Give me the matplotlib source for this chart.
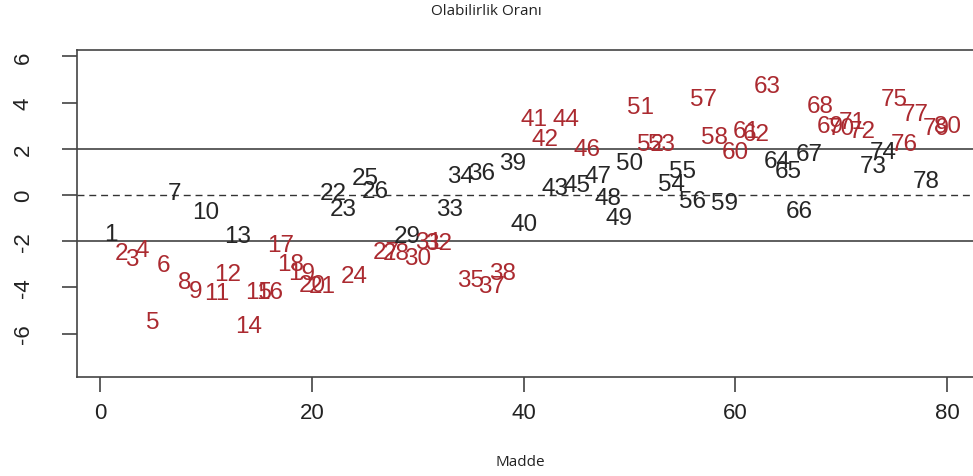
import numpy as np
import matplotlib
matplotlib.use("Agg")
import matplotlib.pyplot as plt

# item numbers and their likelihood-ratio statistic
madde = np.arange(1, 81)
oran = [
    -1.70, -2.50, -2.79, -2.38, -5.49, -3.05, 0.10, -3.77, -4.16, -0.74,
    -4.25, -3.44, -1.78, -5.68, -4.21, -4.21, -2.18, -3.00, -3.37, -3.90,
    -3.95, 0.10, -0.62, -3.51, 0.75, 0.17, -2.45, -2.50, -1.78, -2.72,
    -2.02, -2.07, -0.62, 0.82, -3.66, 0.97, -3.95, -3.37, 1.40, -1.27,
    3.28, 2.42, 0.32, 3.28, 0.42, 1.98, 0.82, -0.11, -0.98, 1.40,
    3.79, 2.22, 2.20, 0.46, 1.04, -0.26, 4.15, 2.49, -0.33, 1.84,
    2.78, 2.63, 4.73, 1.47, 1.04, -0.69, 1.76, 3.86, 2.99, 2.92,
    3.14, 2.78, 1.26, 1.84, 4.15, 2.20, 3.50, 0.61, 2.92, 2.99,
]
# items flagged (drawn in red)
isaretli = [2, 3, 4, 5, 6, 8, 9, 11, 12, 14, 15, 16, 17, 18, 19, 20, 21, 24,
            27, 28, 30, 31, 32, 35, 37, 38, 41, 42, 44, 46, 51, 52, 53, 57,
            58, 60, 61, 62, 63, 68, 69, 70, 71, 72, 75, 76, 77, 79, 80]
sinirlar = [-2, 2]
x_ticks = [0, 20, 40, 60, 80]
y_ticks = [-6, -4, -2, 0, 2, 4, 6]

plt.rcParams['font.family'] = ['Liberation Sans', 'DejaVu Sans']

fig = plt.figure(figsize=(9.73, 4.77), dpi=100)
ax = fig.add_axes([0.0791, 0.2075, 0.929, 0.6862])

kirmizi = '#ab2a30'
siyah = '#262626'
for m, o in zip(madde, oran):
    c = kirmizi if m in isaretli else siyah
    ax.text(m, o, str(m), color=c, fontsize=17.5, ha='center', va='center')

for s in sinirlar:
    ax.axhline(s, color='#333333', lw=1.1)
ax.axhline(0, color='#333333', lw=1.0, ls=(0, (5, 3.5)))

ax.set_xlim(-2.2, 83.2)
ax.set_ylim(-7.88, 6.29)
ax.set_xticks(x_ticks)
ax.set_yticks(y_ticks)
ax.set_yticklabels([str(v) for v in y_ticks], rotation=90, va='center')
ax.tick_params(axis='both', labelsize=16, length=11, width=1.1,
               color='#333333', labelcolor='#222222')
ax.tick_params(axis='x', pad=7)
ax.tick_params(axis='y', pad=20)
for sp in ax.spines.values():
    sp.set_color('#444444')
    sp.set_linewidth(1.2)

fig.text(0.4995, 0.975, 'Olabilirlik Oranı', fontsize=11, ha='center',
         va='center', family=['Open Sans', 'DejaVu Sans'], color='#222222')
fig.text(0.5345, 0.031, 'Madde', fontsize=11, ha='center',
         va='center', family=['Open Sans', 'DejaVu Sans'], color='#222222')

fig.savefig('out.png', dpi=100)
